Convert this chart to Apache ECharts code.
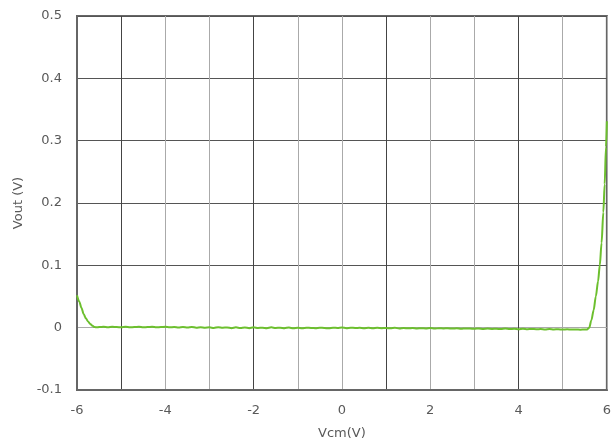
<!DOCTYPE html>
<html>
<head>
<meta charset="utf-8">
<script src="https://cdn.jsdelivr.net/npm/echarts@6/dist/echarts.min.js"></script>
<style>html,body{margin:0;padding:0;background:#fff;}#c{width:614px;height:445px;}</style>
</head>
<body>
<div id="c"></div>
<script>
// Vcm (V) sample points
const vcm = [
  -6.0, -5.95, -5.9, -5.85, -5.8, -5.75, -5.7, -5.65, -5.6, -5.55,
  -5.5, -5.4, -5.3, -5.2, -5.1, -5.0, -4.9, -4.8, -4.7, -4.6,
  -4.5, -4.4, -4.3, -4.2, -4.1, -4.0, -3.9, -3.8, -3.7, -3.6,
  -3.5, -3.4, -3.3, -3.2, -3.1, -3.0, -2.9, -2.8, -2.7, -2.6,
  -2.5, -2.4, -2.3, -2.2, -2.1, -2.0, -1.9, -1.8, -1.7, -1.6,
  -1.5, -1.4, -1.3, -1.2, -1.1, -1.0, -0.9, -0.8, -0.7, -0.6,
  -0.5, -0.4, -0.3, -0.2, -0.1, 0.0, 0.1, 0.2, 0.3, 0.4,
  0.5, 0.6, 0.7, 0.8, 0.9, 1.0, 1.1, 1.2, 1.3, 1.4,
  1.5, 1.6, 1.7, 1.8, 1.9, 2.0, 2.1, 2.2, 2.3, 2.4,
  2.5, 2.6, 2.7, 2.8, 2.9, 3.0, 3.1, 3.2, 3.3, 3.4,
  3.5, 3.6, 3.7, 3.8, 3.9, 4.0, 4.1, 4.2, 4.3, 4.4,
  4.5, 4.6, 4.7, 4.8, 4.9, 5.0, 5.1, 5.2, 5.3, 5.4,
  5.5, 5.55, 5.6, 5.65, 5.7, 5.75, 5.8, 5.84, 5.88, 5.92,
  5.95, 5.98, 6.0
];
// Vout (V)
const vout = [
  0.052, 0.042, 0.032, 0.022, 0.015, 0.010, 0.006, 0.003, 0.001, 0.0005,
  0.001, 0.0015, 0.0005, 0.0015, 0.001, 0.0005, 0.0015, 0.0005, 0.001, 0.0015,
  0.0005, 0.001, 0.0015, 0.0005, 0.001, 0.0015, 0.0005, 0.0012, 0.0002, 0.001,
  0.0003, 0.0012, 0.0, 0.0008, 0.0, 0.0005, -0.0005, 0.0008, 0.0, 0.0002,
  -0.0008, 0.0005, -0.0005, 0.0003, -0.0008, 0.0005, -0.0005, 0.0, -0.0008, 0.0005,
  -0.0005, 0.0, -0.0008, 0.0002, -0.001, 0.0, -0.0008, 0.0, -0.0005, -0.0008,
  0.0, -0.0005, -0.001, 0.0, -0.0005, 0.0002, -0.0008, 0.0, -0.0005, -0.0002,
  -0.0008, -0.0002, -0.001, -0.0003, -0.0008, -0.0005, -0.001, -0.0003, -0.0012, -0.0005,
  -0.001, -0.0006, -0.0012, -0.0008, -0.0012, -0.0006, -0.0015, -0.0008, -0.0012, -0.001,
  -0.0015, -0.001, -0.0018, -0.0012, -0.0015, -0.0018, -0.0012, -0.002, -0.0015, -0.002,
  -0.0018, -0.0022, -0.0015, -0.0022, -0.0018, -0.0025, -0.0018, -0.0025, -0.002, -0.0025,
  -0.0022, -0.0028, -0.002, -0.0028, -0.0025, -0.003, -0.0025, -0.003, -0.0028, -0.0032,
  -0.003, -0.003, 0.0, 0.012, 0.028, 0.05, 0.074, 0.1, 0.136, 0.185,
  0.23, 0.29, 0.331
];
const xTicks = [-6, -4, -2, 0, 2, 4, 6];

const chart = echarts.init(document.getElementById('c'));
const font = 'DejaVu Sans';
chart.setOption({
  animation: false,
  backgroundColor: '#ffffff',
  grid: { left: 77, right: 7, top: 16, bottom: 55, show: true, borderColor: '#666', borderWidth: 2, backgroundColor: 'transparent' },
  xAxis: {
    type: 'value', min: -6, max: 6, interval: 1,
    name: 'Vcm(V)', nameLocation: 'middle', nameGap: 37,
    nameTextStyle: { color: '#595959', fontSize: 13, fontFamily: font },
    axisLine: { show: true, onZero: false, lineStyle: { color: '#666', width: 2 } },
    axisTick: { show: false },
    axisLabel: {
      color: '#595959', fontSize: 13, fontFamily: font, margin: 14,
      formatter: v => xTicks.indexOf(v) >= 0 ? String(v) : ''
    },
    splitLine: { show: true, lineStyle: { color: ['#aaa', '#444', '#aaa'], width: 1 } }
  },
  yAxis: {
    type: 'value', min: -0.1, max: 0.5, interval: 0.1,
    name: 'Vout (V)', nameLocation: 'middle', nameGap: 52,
    nameTextStyle: { color: '#595959', fontSize: 13, fontFamily: font },
    axisLine: { show: true, onZero: false, lineStyle: { color: '#666', width: 2 } },
    axisTick: { show: false },
    axisLabel: {
      color: '#595959', fontSize: 13, fontFamily: font, margin: 15,
      formatter: v => String(Math.round(v * 10) / 10)
    },
    splitLine: { show: true, lineStyle: { color: ['#555', '#aaa', '#555', '#555', '#555', '#555', '#555'], width: 1 } }
  },
  series: [{
    type: 'line',
    data: vcm.map((x, i) => [x, vout[i]]),
    showSymbol: false,
    smooth: 0.3,
    smoothMonotone: 'x',
    lineStyle: { color: '#6cbf2e', width: 2 },
    itemStyle: { color: '#6cbf2e' }
  }]
});
</script>
</body>
</html>
